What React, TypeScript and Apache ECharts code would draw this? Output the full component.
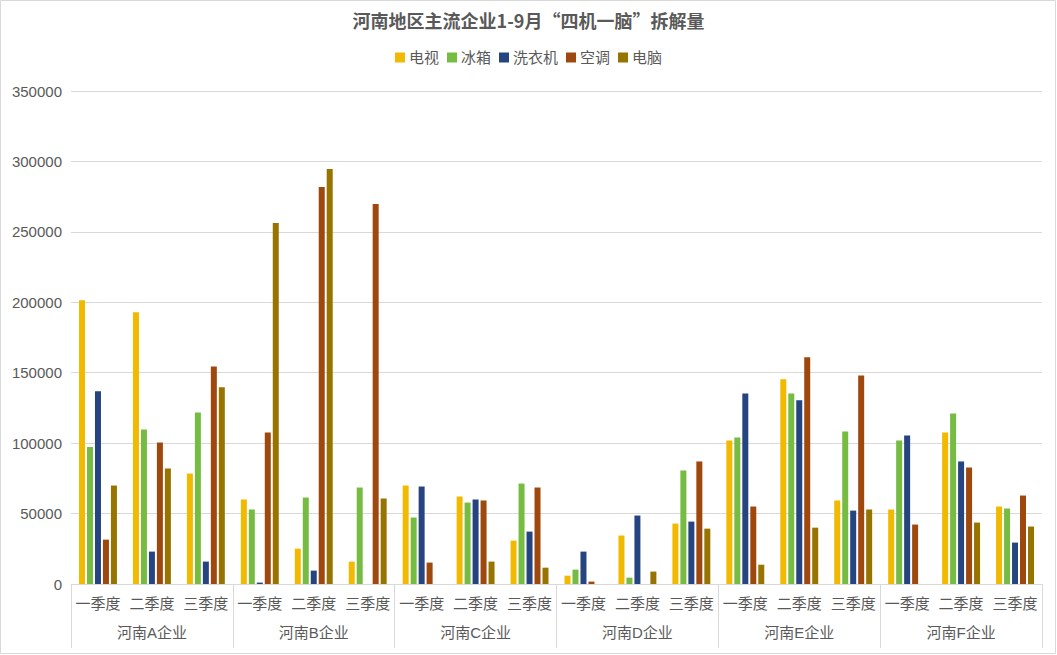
import React, { useEffect, useRef } from "react";
import * as echarts from "echarts";

const groups = ["河南A企业", "河南B企业", "河南C企业", "河南D企业", "河南E企业", "河南F企业"];
const quarters = ["一季度", "二季度", "三季度"];
const seriesNames = ["电视", "冰箱", "洗衣机", "空调", "电脑"];
const colors = ["#F1BA00", "#76BC43", "#264480", "#9E480E", "#977300"];

const tv = [201500, 192900, 78400, 60000, 25100, 15900, 69900, 62100, 30800, 5900, 34400, 42900, 101900, 145300, 59300, 52900, 107600, 55000];
const fridge = [97200, 109700, 121800, 52900, 61400, 68500, 47200, 57800, 71300, 10200, 4500, 80600, 104000, 135300, 108300, 101900, 121100, 53600];
const washer = [136800, 23000, 15900, 1000, 9500, 0, 69200, 60000, 37200, 23000, 48600, 44300, 135300, 130400, 52100, 105500, 87000, 29400];
const aircon = [31500, 100500, 154500, 107600, 281800, 269700, 15200, 59300, 68500, 1700, 0, 87000, 55000, 160900, 148100, 42200, 82700, 62800];
const computer = [69900, 82000, 139600, 256200, 294600, 60700, 0, 15900, 11600, 0, 8800, 39300, 13700, 40000, 52900, 0, 43600, 40800];

const yTicks = [0, 50000, 100000, 150000, 200000, 250000, 300000, 350000];

export default function App() {
  const ref = useRef<HTMLDivElement>(null);
  useEffect(() => {
    if (!ref.current) return;
    const chart = echarts.init(ref.current, undefined, { renderer: "svg" });
    const categories: string[] = [];
    groups.forEach(() => quarters.forEach((q) => categories.push(q)));
    const all = [tv, fridge, washer, aircon, computer];
    const font = "'Liberation Sans', 'Noto Sans CJK SC', sans-serif";
    chart.setOption({
      animation: false,
      textStyle: { fontFamily: font },
      title: {
        text: "河南地区主流企业1-9月“四机一脑”拆解量",
        left: "center",
        top: 6,
        textStyle: { fontSize: 18, fontWeight: "bold", color: "#595959", fontFamily: "'Noto Sans CJK SC', serif" },
      },
      legend: {
        data: seriesNames,
        top: 45,
        left: "center",
        itemWidth: 10,
        itemHeight: 10,
        itemGap: 8,
        icon: "rect",
        textStyle: { fontSize: 15, color: "#595959", fontFamily: font, padding: [0, 0, 0, -1] },
      },
      graphic: [
        {
          type: "rect",
          shape: { x: 0.5, y: 0.5, width: 1055, height: 653 },
          style: { fill: "none", stroke: "#d9d9d9", lineWidth: 1 },
          silent: true,
        },
      ],
      grid: { left: 71, right: 15, top: 91, bottom: 71, containLabel: false },
      xAxis: [
        {
          type: "category",
          data: categories,
          position: "bottom",
          axisLine: { show: true, lineStyle: { color: "#d9d9d9" } },
          axisTick: { show: false },
          axisLabel: { interval: 0, margin: 12, fontSize: 15, color: "#595959", fontFamily: font },
        },
        {
          type: "category",
          data: groups,
          position: "bottom",
          axisLine: { show: false },
          axisTick: { show: true, interval: 0, length: 64, lineStyle: { color: "#d9d9d9" } },
          axisLabel: { interval: 0, margin: 41, fontSize: 15, color: "#595959", fontFamily: font },
        },
      ],
      yAxis: {
        type: "value",
        min: yTicks[0],
        max: yTicks[yTicks.length - 1],
        interval: 50000,
        axisLine: { show: false },
        axisTick: { show: false },
        axisLabel: { fontSize: 15, color: "#595959", margin: 9, fontFamily: font, formatter: (v: number) => String(v) },
        splitLine: { lineStyle: { color: "#d9d9d9" } },
      },
      series: seriesNames.map((name, i) => ({
        name,
        type: "bar",
        xAxisIndex: 0,
        data: all[i],
        barWidth: 6,
        barGap: "33%",
        itemStyle: { color: colors[i] },
      })),
    });
    return () => chart.dispose();
  }, []);
  return <div ref={ref} style={{ position: "fixed", left: 0, top: 0, width: 1057, height: 655, background: "#fff" }} />;
}
